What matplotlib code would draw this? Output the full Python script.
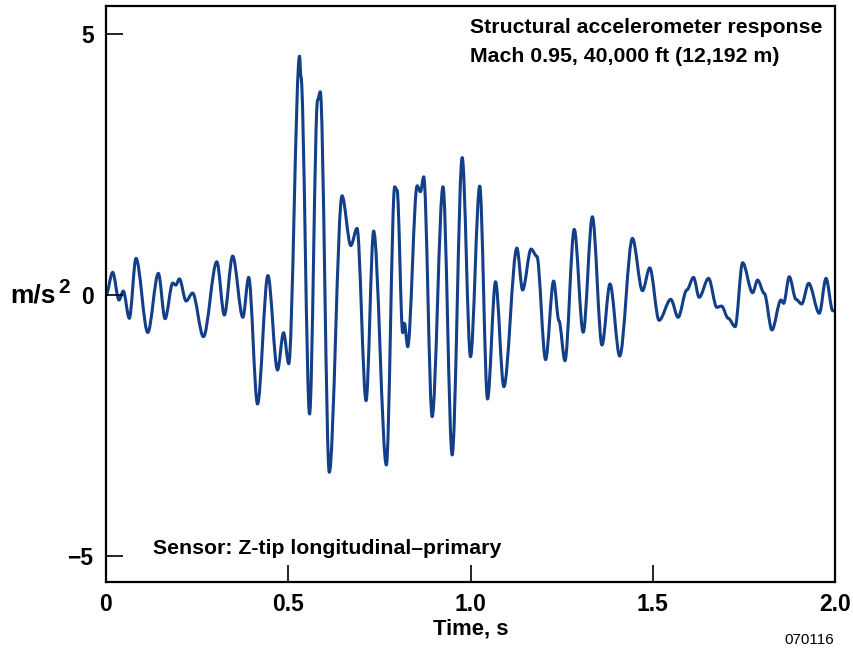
import matplotlib
matplotlib.use("Agg")
import matplotlib.pyplot as plt
from matplotlib.path import Path
from matplotlib.patches import PathPatch

# values (local peaks, troughs and shoulders)
time_s = [0.0, 0.0184, 0.0357, 0.0475, 0.064, 0.0824, 0.1146, 0.1437, 0.1621, 0.1832,
          0.1915, 0.2014, 0.2198, 0.2376, 0.2673, 0.3041, 0.3247, 0.3475, 0.3755, 0.3915,
          0.4157, 0.4442, 0.4706, 0.4871, 0.5014, 0.531, 0.5349, 0.5585, 0.5805, 0.5879,
          0.6126, 0.6475, 0.6717, 0.6887, 0.7135, 0.7343, 0.7692, 0.792, 0.7986, 0.814,
          0.8187, 0.8277, 0.8536, 0.8626, 0.8717, 0.8948, 0.9245, 0.9497, 0.9772, 1.0,
          1.0253, 1.0467, 1.0687, 1.0915, 1.1272, 1.1429, 1.1662, 1.1821, 1.206, 1.228,
          1.2426, 1.2591, 1.2846, 1.3091, 1.3343, 1.3607, 1.3827, 1.4093, 1.4442, 1.4717,
          1.4918, 1.5173, 1.5495, 1.5695, 1.5934, 1.6118, 1.6272, 1.653, 1.6758, 1.6887,
          1.707, 1.726, 1.7464, 1.7739, 1.7876, 1.8058, 1.8269, 1.8516, 1.859, 1.8745,
          1.8929, 1.9085, 1.9277, 1.9569, 1.9753, 1.9937, 2.0]
accel = [0.0, 0.435, -0.096, 0.077, -0.446, 0.703, -0.718, 0.416, -0.454, 0.23,
         0.19, 0.31, -0.115, 0.038, -0.799, 0.638, -0.383, 0.747, -0.427, 0.339,
         -2.088, 0.374, -1.437, -0.722, -1.316, 4.579, 4.182, -2.28, 3.736, 3.895,
         -3.397, 1.902, 0.948, 1.278, -2.025, 1.226, -3.257, 2.075, 2.01, -0.722,
         -0.542, -0.99, 2.094, 1.979, 2.266, -2.331, 2.075, -3.065, 2.634, -1.182,
         2.088, -1.992, 0.255, -1.757, 0.9, 0.096, 0.881, 0.741, -1.239, 0.268,
         -0.494, -1.259, 1.259, -0.713, 1.5, -0.958, 0.211, -1.169, 1.086, 0.082,
         0.521, -0.485, -0.082, -0.427, 0.096, 0.339, -0.044, 0.32, -0.236, -0.211,
         -0.446, -0.607, 0.619, 0.044, 0.287, 0.033, -0.67, -0.096, -0.159, 0.351,
         -0.082, -0.172, 0.224, -0.351, 0.32, -0.301, -0.306]

x_ticks = [0, 0.5, 1.0, 1.5, 2.0]
x_tick_labels = ["0", "0.5", "1.0", "1.5", "2.0"]
y_ticks = [-5, 0, 5]
y_tick_labels = ["\u22125", "0", "5"]

plt.rcParams["font.family"] = ["Liberation Sans", "DejaVu Sans"]
plt.rcParams["font.weight"] = "bold"

LINE = "#123f88"
TXT = 15.3

fig = plt.figure(figsize=(8.54, 6.51), dpi=100)
ax = fig.add_axes([0.1241, 0.106, 0.8537, 0.8848])

# smooth trace: cubic segments with flat tangents at each read point
verts = [(time_s[0], accel[0])]
codes = [Path.MOVETO]
for i in range(len(time_s) - 1):
    x0, y0 = time_s[i], accel[i]
    x1, y1 = time_s[i + 1], accel[i + 1]
    dx = (x1 - x0) / 3
    verts += [(x0 + dx, y0), (x1 - dx, y1), (x1, y1)]
    codes += [Path.CURVE4] * 3
ax.add_patch(PathPatch(Path(verts, codes), facecolor="none", edgecolor=LINE,
                       lw=2.2, joinstyle="round", capstyle="round"))

ax.set_xlim(0, 2.0)
ax.set_ylim(-5.5, 5.54)
ax.set_xticks(x_ticks)
ax.set_xticklabels(x_tick_labels)
ax.set_yticks(y_ticks)
ax.set_yticklabels(y_tick_labels)
ax.tick_params(direction="in", length=12, width=1.2, labelsize=16.5, pad=8)
ax.tick_params(axis="y", pad=9)
for s in ax.spines.values():
    s.set_linewidth(1.6)

ax.set_xlabel("Time, s", fontsize=TXT + 0.5, fontweight="bold", labelpad=2)

# y unit label with a large raised "2"
ax.text(-0.131, 0.497, "m/s", transform=ax.transAxes, ha="left", va="center",
        fontsize=19, fontweight="bold")
ax.text(-0.066, 0.512, "2", transform=ax.transAxes, ha="left", va="center",
        fontsize=15, fontweight="bold")

ax.text(0.4993, 0.9635, "Structural accelerometer response", transform=ax.transAxes,
        ha="left", va="center", fontsize=TXT, fontweight="bold")
ax.text(0.4993, 0.9115, "Mach 0.95, 40,000 ft (12,192 m)", transform=ax.transAxes,
        ha="left", va="center", fontsize=TXT, fontweight="bold")
ax.text(0.0645, 0.0573, "Sensor: Z-tip longitudinal\u2013primary", transform=ax.transAxes,
        ha="left", va="center", fontsize=TXT, fontweight="bold")

fig.text(0.977, 1 - 640 / 651, "070116", ha="right", va="center",
         fontsize=11, fontweight="normal")

fig.savefig("out.png", dpi=100)
